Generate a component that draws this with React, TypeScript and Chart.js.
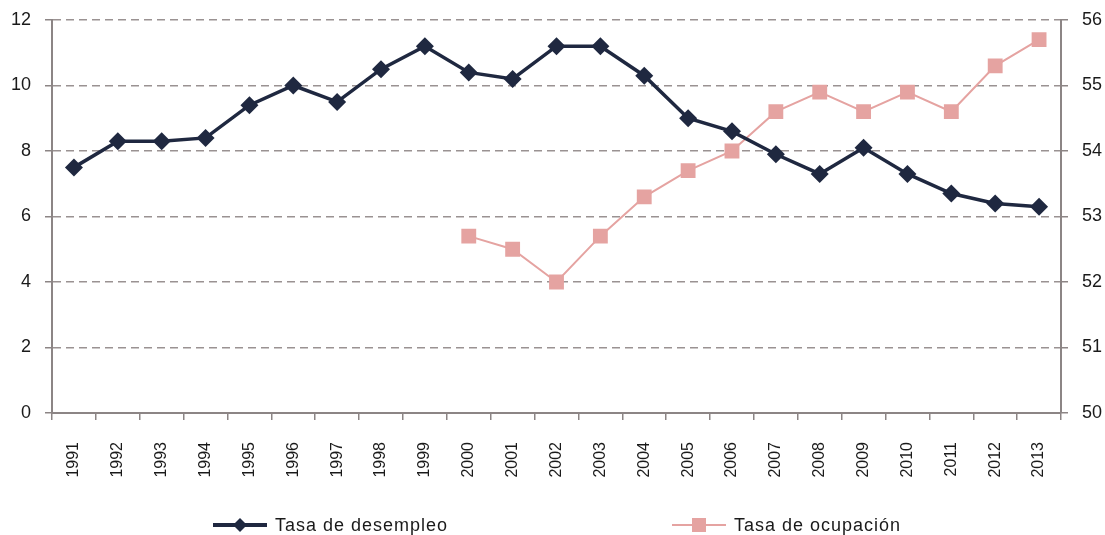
import React, { useEffect, useRef } from "react";
import { Chart, registerables } from "chart.js";

Chart.register(...registerables);

const years = [
  "1991", "1992", "1993", "1994", "1995", "1996", "1997", "1998", "1999", "2000", "2001", "2002",
  "2003", "2004", "2005", "2006", "2007", "2008", "2009", "2010", "2011", "2012", "2013",
];

const tasaDesempleo = [
  7.5, 8.3, 8.3, 8.4, 9.4, 10.0, 9.5, 10.5, 11.2, 10.4, 10.2, 11.2,
  11.2, 10.3, 9.0, 8.6, 7.9, 7.3, 8.1, 7.3, 6.7, 6.4, 6.3,
];

const tasaOcupacion = [
  null, null, null, null, null, null, null, null, null, 52.7, 52.5, 52.0,
  52.7, 53.3, 53.7, 54.0, 54.6, 54.9, 54.6, 54.9, 54.6, 55.3, 55.7,
];

const leftTicks = [0, 2, 4, 6, 8, 10, 12];
const rightTicks = [50, 51, 52, 53, 54, 55, 56];

const seriesNames = ["Tasa de desempleo", "Tasa de ocupación"];

const NAVY = "#1f2840";
const PINK = "#e5a3a1";
const GRID = "#9a9292";
const AXIS = "#8c8585";
const TEXT = "#1a1a1a";
const FONT = "'Liberation Sans', Arial, sans-serif";

const legendPlugin = {
  id: "customLegend",
  afterDraw(chart: any) {
    const ctx = chart.ctx as CanvasRenderingContext2D;
    const y = 525;
    const items = [
      { x: 213, color: NAVY, lw: 4, style: "diamond", text: seriesNames[0] },
      { x: 672, color: PINK, lw: 2, style: "square", text: seriesNames[1] },
    ];
    ctx.save();
    for (const it of items) {
      const len = 54;
      ctx.strokeStyle = it.color;
      ctx.lineWidth = it.lw;
      ctx.beginPath();
      ctx.moveTo(it.x, y);
      ctx.lineTo(it.x + len, y);
      ctx.stroke();
      const cx = it.x + len / 2;
      ctx.fillStyle = it.color;
      ctx.beginPath();
      if (it.style === "diamond") {
        const r = 7;
        ctx.moveTo(cx, y - r);
        ctx.lineTo(cx + r, y);
        ctx.lineTo(cx, y + r);
        ctx.lineTo(cx - r, y);
        ctx.closePath();
      } else {
        const s = 7;
        ctx.rect(cx - s, y - s, 2 * s, 2 * s);
      }
      ctx.fill();
      ctx.fillStyle = TEXT;
      ctx.font = `18px ${FONT}`;
      (ctx as any).letterSpacing = "1px";
      ctx.textAlign = "left";
      ctx.textBaseline = "middle";
      ctx.fillText(it.text, it.x + len + 8, y + 1);
    }
    ctx.restore();
  },
};

const fitVertical = (w: number) => (s: any) => {
  s.width = w;
  s.paddingTop = 0;
  s.paddingBottom = 0;
};

export default function App() {
  const ref = useRef<HTMLCanvasElement | null>(null);

  useEffect(() => {
    if (!ref.current) return;
    const chart = new Chart(ref.current, {
      type: "line",
      data: {
        labels: years,
        datasets: [
          {
            label: seriesNames[0],
            data: tasaDesempleo,
            yAxisID: "y",
            borderColor: NAVY,
            backgroundColor: NAVY,
            borderWidth: 3.5,
            pointStyle: "rectRot",
            pointRadius: 9,
            pointBorderWidth: 0,
            pointBackgroundColor: NAVY,
            tension: 0,
          },
          {
            label: seriesNames[1],
            data: tasaOcupacion,
            yAxisID: "y1",
            borderColor: PINK,
            backgroundColor: PINK,
            borderWidth: 2,
            pointStyle: "rect",
            pointRadius: 10.5,
            pointBorderWidth: 0,
            pointBackgroundColor: PINK,
            tension: 0,
            spanGaps: false,
          },
        ],
      },
      options: {
        responsive: false,
        animation: false,
        events: [],
        layout: { padding: { top: 20, left: 0, right: 0, bottom: 0 } },
        plugins: {
          legend: { display: false },
          tooltip: { enabled: false },
          title: { display: false },
        },
        scales: {
          x: {
            type: "category",
            offset: true,
            grid: {
              display: true,
              offset: true,
              drawOnChartArea: false,
              drawTicks: true,
              tickLength: 7,
              color: AXIS,
              lineWidth: 1.5,
            },
            border: { display: true, color: AXIS, width: 2 },
            ticks: {
              autoSkip: false,
              minRotation: 90,
              maxRotation: 90,
              padding: 22,
              color: TEXT,
              font: { family: FONT, size: 16 },
            },
            afterFit: (s: any) => {
              s.height = 122;
              s.paddingLeft = 0;
              s.paddingRight = 0;
            },
          },
          y: {
            position: "left",
            min: 0,
            max: 12,
            afterBuildTicks: (s: any) => {
              s.ticks = leftTicks.map((v) => ({ value: v }));
            },
            grid: {
              color: GRID,
              lineWidth: 1.5,
              drawTicks: true,
              tickLength: 7,
              tickColor: AXIS,
              tickBorderDash: [],
            },
            border: { display: true, color: AXIS, width: 2, dash: [8, 5] },
            ticks: {
              padding: 14,
              color: TEXT,
              font: { family: FONT, size: 18 },
            },
            afterFit: fitVertical(52),
          },
          y1: {
            position: "right",
            min: 50,
            max: 56,
            afterBuildTicks: (s: any) => {
              s.ticks = rightTicks.map((v) => ({ value: v }));
            },
            grid: {
              drawOnChartArea: false,
              drawTicks: true,
              tickLength: 7,
              color: AXIS,
              lineWidth: 1.5,
            },
            border: { display: true, color: AXIS, width: 2 },
            ticks: {
              padding: 14,
              color: TEXT,
              font: { family: FONT, size: 18 },
            },
            afterFit: fitVertical(44),
          },
        },
      },
      plugins: [legendPlugin],
    } as any);
    return () => chart.destroy();
  }, []);

  return (
    <div style={{ position: "absolute", left: 0, top: 0, width: 1105, height: 535, background: "#fff" }}>
      <canvas ref={ref} width={1105} height={535} style={{ display: "block" }} />
    </div>
  );
}
